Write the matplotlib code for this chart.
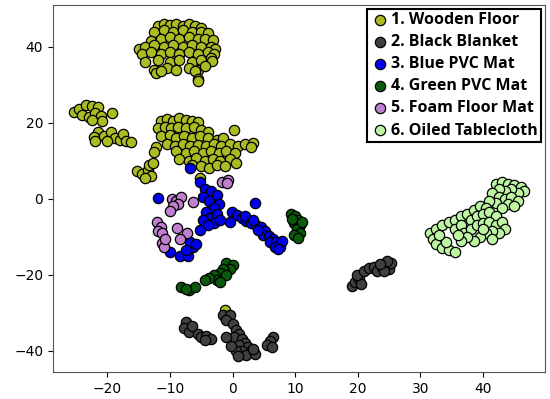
import matplotlib.pyplot as plt

# class names and colours
labels = ["1. Wooden Floor", "2. Black Blanket", "3. Blue PVC Mat",
          "4. Green PVC Mat", "5. Foam Floor Mat", "6. Oiled Tablecloth"]
colors = ["#abbb22", "#404040", "#0000ee", "#0b5a0b", "#c07fcf", "#bdf5a3"]

# t-SNE embedding points
wooden = [
    # top cluster
    (-12, 45.5), (-11, 46), (-10, 45.8), (-9, 46), (-8, 45.5), (-7, 46), (-6, 45.5), (-5, 45),
    (-12.5, 44), (-11, 44.5), (-9.5, 44), (-8, 44.5), (-6.5, 44), (-5, 44), (-4, 43.5),
    (-13, 41.5), (-11.5, 42), (-10, 42.5), (-8.5, 42), (-7, 42.5), (-5.5, 42), (-4.5, 42), (-3.2, 41.8),
    (-15, 39.5), (-14, 40), (-12.5, 40.5), (-11, 40), (-9.5, 40.5), (-8, 40), (-6.5, 40.5), (-5, 40),
    (-3.5, 40), (-2.8, 39.5),
    (-14.5, 38), (-13, 38.5), (-11.5, 38), (-10, 38.5), (-8.5, 38), (-7, 38.5), (-5.5, 38), (-4, 38.5), (-3, 38),
    (-14, 36), (-12, 36.5), (-10, 36), (-8.5, 36.5), (-6.5, 36), (-5, 36.5), (-3.5, 37), (-3.3, 36.2),
    (-12.5, 34), (-10.5, 34.5), (-9, 34), (-7, 34.5), (-5.5, 34), (-4.5, 35),
    (-12.2, 33), (-11.5, 33.5), (-6, 33.5), (-5.6, 31.6), (-5.6, 31.0),
    # middle cluster
    (-11.5, 20.5), (-10.5, 21), (-9.5, 20.5), (-8.5, 21.2), (-7.5, 20.8), (-6.5, 20.5), (-5.5, 20.2),
    (-12, 18.5), (-10.8, 19), (-9.8, 18.5), (-8.8, 19), (-7.5, 18.5), (-6.2, 18.8), (-5, 18), (-4, 17.5),
    (-11.5, 16.5), (-10, 16.8), (-9, 16), (-7.8, 16.5), (-6.5, 16), (-5.3, 16.5), (-4, 16), (-2.5, 15.5),
    (-1.5, 16),
    (-12.3, 13.5), (-10.5, 14.5), (-9.2, 14), (-8, 14.5), (-6.8, 14), (-5.5, 14.2), (-4.2, 14), (-3, 14.5),
    (-1.8, 14), (-0.5, 14.5), (0.8, 13.8), (2, 14.5), (3.2, 14.8), (3.0, 13.5),
    (-12.6, 12.2), (-9, 12.5), (-7.5, 12), (-6.2, 12.5), (-4.8, 12), (-3.5, 12.5), (-2.2, 12), (-1, 12.5),
    (0.3, 12),
    (-8.5, 10.5), (-7, 10), (-5.8, 10.8), (-4.5, 10), (-3.2, 10.5), (-2, 10), (-0.5, 10.5), (0.5, 9.5),
    (-6.5, 9), (-5, 8.5), (-3.8, 8.2), (-2.5, 9), (-1.2, 8.5),
    (0.2, 18.2), (-5.3, 5.5),
    # left cluster
    (-25.3, 22.8), (-24.5, 23.5), (-23.5, 24.8), (-22.5, 24.5), (-21.5, 24.2), (-24, 22), (-23, 21.5),
    (-22, 22.5), (-21, 21.8), (-20.8, 20.5), (-22.5, 20.8), (-19.2, 22.5),
    (-21.5, 17.5), (-22.2, 16.2), (-22, 15.2), (-20.5, 16.5), (-19.5, 17.5), (-18.8, 16), (-18, 15.5),
    (-17.5, 17), (-17, 15.2), (-16.2, 15), (-20, 15.3),
    (-15.3, 7.2), (-14.5, 6.5), (-13.5, 7.5), (-13, 6), (-14, 5.5), (-13.3, 8.8), (-12.8, 9.5),
    # stray point near black blanket
    (-1.2, -29.3),
]

black = [
    (-1.5, -30.5), (-0.5, -30.5), (-1, -32), (0, -33), (0.5, -34.5), (1, -35.5), (0.2, -36.5), (-1, -36.5),
    (1.5, -37), (2, -38), (1, -38.5), (2.5, -39), (1.5, -40), (0.5, -40), (3, -40), (2.2, -41), (3.5, -40.8),
    (3.3, -39.5), (0.8, -41.5), (-0.3, -38.8),
    (-7.5, -32.5), (-7.8, -34), (-7, -35), (-6.5, -33.5), (-5.5, -35.5), (-5, -36.5), (-4.2, -36),
    (-3.5, -37), (-4.5, -37.3),
    (6.5, -36.5), (6, -37.5), (5.5, -38.5), (6.3, -39),
    (19, -23), (19.5, -22), (20.2, -21), (20.5, -22.5), (19.8, -20), (21, -19), (21.8, -18.3), (22.5, -18),
    (23, -19), (23.8, -18), (24.5, -17.5), (25, -18.5), (24.2, -19), (25.3, -17), (24.7, -16.5),
    (23.5, -17.2),
]

blue = [
    (-11.9, 0.2), (-6.8, 8.1), (-5.2, 4.5), (-4.5, 2.5), (-3.5, 2), (-4.8, 0.5), (-3.8, -0.5), (-2.5, 1),
    (-2.2, -1.5), (-3, -2.5), (-4.2, -3.5), (-3.6, -5), (-2.5, -4), (-4.8, -5.5), (-3, -6.5), (-2, -5.5),
    (-4, -6.8), (-5.2, -8.2), (-0.4, -6.1), (-0.1, -3.5), (3.6, -1.1),
    (0.7, -4.3), (1.5, -5), (2.2, -5.8), (2, -4.6), (3, -6.3), (3.8, -7), (3.2, -5.5), (4.5, -7.5),
    (5.2, -8.5), (4.8, -9.5), (5.8, -9.8), (6.5, -10.5), (6, -11.5), (7, -11.5), (7.6, -12.7),
    (6.8, -12.8), (7.8, -11), (7.3, -13.2), (4, -8.2),
    (-10, -14), (-8.4, -15.1), (-7.2, -15.1), (-6.4, -12.7), (-6.8, -11.4), (-5.8, -12), (-7.5, -13.5),
]

green = [
    (9.3, -4), (10, -4.5), (10.5, -5.5), (9.8, -6.5), (10.8, -7), (10.2, -8), (10.7, -9), (9.8, -9.5),
    (10.4, -10.3), (11, -6), (9.5, -5.2),
    (-1, -17), (0, -17.5), (-0.5, -18.5), (-1.5, -18.5), (-2, -19.5), (-3, -20), (-1, -20), (-2.5, -21.5),
    (-3.8, -20.8), (-4.5, -21.5), (-2, -22),
    (-8.2, -23.2), (-7, -24), (-6, -23.3), (-7.5, -23.8),
]

foam = [
    (-1.7, 4.4), (-0.7, 4.9), (-0.9, 4.2), (-9.7, 0), (-9, -0.5), (-8.2, 0.5), (-8.8, -1.5), (-9.5, -2),
    (-10, -3.2), (-6.4, -0.8), (-12.1, -6.2), (-11.5, -7.5), (-12, -8.5), (-11.3, -9), (-8.9, -7.7),
    (-7.3, -9.1), (-8.4, -10.6), (-11.3, -11.7), (-11, -12.8), (-10.8, -10.5),
]

oiled = [
    (42, 4), (43, 4.5), (44, 4), (45, 3.5), (46, 3), (46.5, 2), (45.5, 1.5), (44.5, 2.5), (43.5, 2),
    (42.5, 2.5), (41.5, 1.5), (42.5, 0.5), (43.5, 0), (44.5, 0.5), (45.5, -0.5), (44, -1.5), (42, -1),
    (41, -0.5), (43, -2.5), (45, -2),
    (31.5, -9), (32.5, -8), (33.5, -7), (34.5, -6), (35.5, -5.5), (36.5, -4.5), (37.5, -4), (38.5, -3),
    (39.5, -2), (40.5, -2.5), (38, -5.5), (39, -4.5), (40, -4), (41, -3.5), (42, -4.5),
    (35.5, -8), (36.5, -7), (37, -9), (38, -8), (39, -7), (40, -6.5), (41, -6), (42, -7), (43, -6),
    (43.5, -8), (42.5, -9), (41.5, -8.5), (40.5, -9), (39.5, -10), (38.5, -11), (37.5, -10),
    (36.5, -11), (36, -9.5), (40, -8), (41.5, -10.5),
    (32, -10.5), (32.5, -12), (33.5, -13), (34.5, -13.5), (35.5, -14), (34, -11.5), (33, -9.5),
]

groups = [wooden, black, blue, green, foam, oiled]

fig = plt.figure(figsize=(5.5, 3.99), dpi=100)
ax = fig.add_axes([0.0964, 0.0677, 0.8946, 0.9198])

for pts, col, lab in zip(groups, colors, labels):
    xs = [p[0] for p in pts]
    ys = [p[1] for p in pts]
    ax.scatter(xs, ys, s=55, c=col, edgecolors="black", linewidths=0.9, label=lab)

ax.set_xlim(-28.7, 49.9)
ax.set_ylim(-45.6, 51)
ax.set_xticks([-20, -10, 0, 10, 20, 30, 40])
ax.set_yticks([-40, -20, 0, 20, 40])
for sp in ax.spines.values():
    sp.set_color("#555555")

leg = ax.legend(loc="upper right", prop={"family": "Open Sans", "weight": "bold", "size": 11.5},
                fancybox=False, edgecolor="black", framealpha=1, borderaxespad=0.25,
                handletextpad=0.1, borderpad=0.2, labelspacing=0.38, handlelength=1.2)
leg.get_frame().set_linewidth(1.5)

fig.savefig("out.png", dpi=100)
